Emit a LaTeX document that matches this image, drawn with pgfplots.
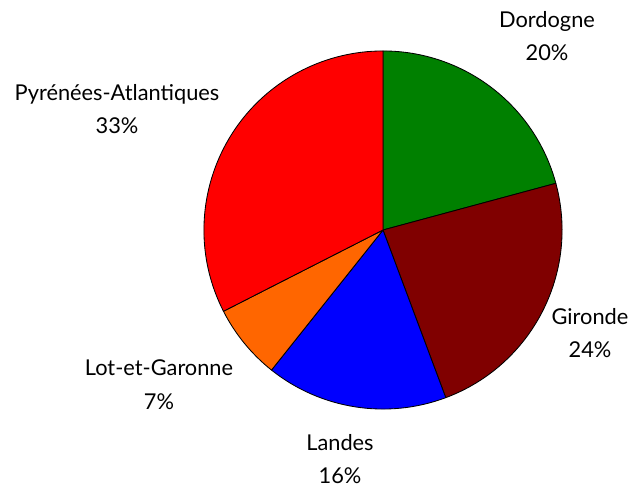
\documentclass[border=0pt]{standalone}
\usepackage{fontspec}
\setmainfont{Lato}
\usepackage{pgfplots}
\usepackage{pgfplotstable}
\pgfplotsset{compat=1.18}
\definecolor{cDor}{HTML}{008000}
\definecolor{cGir}{HTML}{800000}
\definecolor{cLan}{HTML}{0000FF}
\definecolor{cLot}{HTML}{FF6600}
\definecolor{cPyr}{HTML}{FF0000}

% share (percent), rounded label, label centre in pixel coords (y up)
\pgfplotstableread[col sep=comma]{
name,value,pct,lx,ly,col
Dordogne,20.8,20,547,452,cDor
Gironde,23.5,24,590,155,cGir
Landes,16.4,16,340,29,cLan
Lot-et-Garonne,6.8,7,159,103,cLot
Pyrénées-Atlantiques,32.5,33,117,379,cPyr
}\piedata

\begin{document}
\begin{tikzpicture}
\begin{axis}[x=0.025cm,y=0.025cm,xmin=0,xmax=636,ymin=0,ymax=488,
  hide axis,clip=false]
  % keep the full canvas as bounding box
  \path (axis cs:0,0) rectangle (axis cs:636,488);
  \def\cx{383}\def\cy{258}
  \def\rad{4.475cm}% 179 px
  \def\curang{90}
  \pgfplotstablegetrowsof{\piedata}
  \pgfmathtruncatemacro\nrows{\pgfplotsretval-1}
  \pgfplotsforeachungrouped \i in {0,...,\nrows}{%
    \pgfplotstablegetelem{\i}{value}\of\piedata \let\val\pgfplotsretval
    \pgfplotstablegetelem{\i}{pct}\of\piedata \let\pct\pgfplotsretval
    \pgfplotstablegetelem{\i}{name}\of\piedata \let\nm\pgfplotsretval
    \pgfplotstablegetelem{\i}{lx}\of\piedata \let\lx\pgfplotsretval
    \pgfplotstablegetelem{\i}{ly}\of\piedata \let\ly\pgfplotsretval
    \pgfplotstablegetelem{\i}{col}\of\piedata \let\col\pgfplotsretval
    \pgfmathsetmacro\endang{\curang-3.6*\val}
    \edef\doit{%
      \noexpand\filldraw[fill=\col,draw=black,line width=0.6pt,line join=round]
        (axis cs:\cx,\cy) -- ++(\curang:\rad)
        arc[start angle=\curang,end angle=\endang,radius=\rad] -- cycle;
      \noexpand\node[align=center,font=\noexpand\fontsize{15.5}{24}\noexpand\selectfont,
        text=black] at (axis cs:\lx,\ly) {\nm\noexpand\\\pct\noexpand\%};
    }\doit
    \global\let\curang\endang
  }
\end{axis}
\end{tikzpicture}
\end{document}
